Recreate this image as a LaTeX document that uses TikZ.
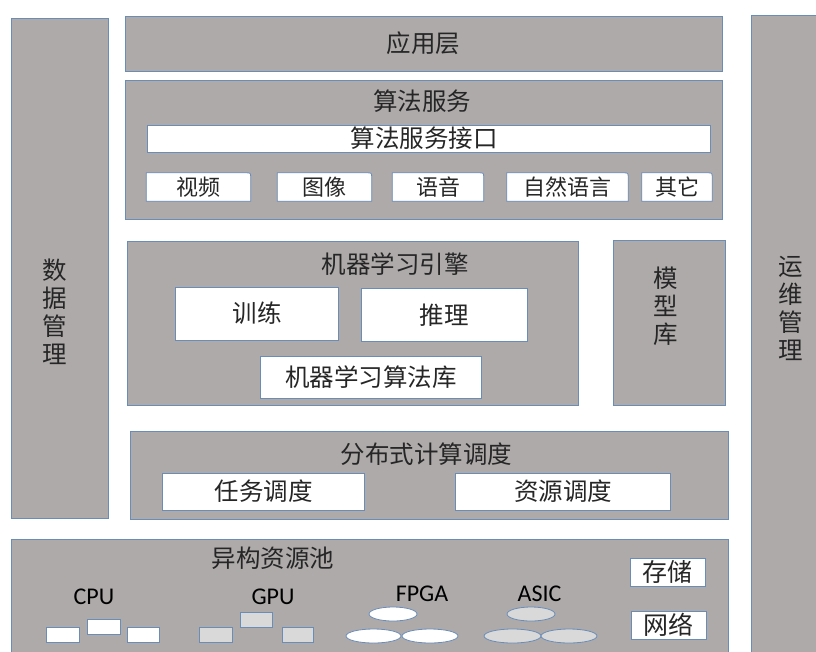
\documentclass[tikz,border=0pt]{standalone}
\usepackage{fontspec}
\setmainfont{Carlito}
\newfontfamily\cjk{Noto Sans CJK SC}
\usetikzlibrary{shapes.geometric}
\definecolor{grayc}{HTML}{AEAAAA}
\definecolor{lgray}{HTML}{D9D9D9}
\definecolor{bordc}{HTML}{6A8DB8}
\definecolor{txtc}{HTML}{262626}
\begin{document}
\begin{tikzpicture}[x=1pt,y=-1pt,
  bord/.style={draw=bordc, line width=0.8pt},
  graybox/.style={bord, fill=grayc, inner sep=0pt},
  whitebox/.style={bord, fill=white, inner sep=0pt, text=txtc, font=\cjk\fontsize{24.5}{28}\selectfont},
  lgbox/.style={bord, fill=lgray, inner sep=0pt},
  lbl/.style={inner sep=0pt, text=txtc, font=\cjk\fontsize{24.5}{28}\selectfont, align=center},
  slbl/.style={inner sep=0pt, text=txtc, font=\cjk\fontsize{22}{26}\selectfont},
  elbl/.style={inner sep=0pt, text=black, font=\fontsize{24}{28}\selectfont},
  btnbox/.style={inner sep=0pt, draw=none, fill=none},
  ell/.style={ellipse, bord, inner sep=0pt, minimum height=14pt}
]
\clip (0,0) rectangle (816,651);
\fill[white] (0,0) rectangle (816,651);

% side columns
\node[graybox, minimum width=97pt, minimum height=500pt] (data) at (59.5,268) {};
\node[lbl] (datat) at (55,311.5) {数\\据\\管\\理};
\node[graybox, minimum width=90pt, minimum height=650pt] (ops) at (796,340) {};
\node[lbl] (opst) at (791,308.5) {运\\维\\管\\理};

% application layer
\node[graybox, minimum width=597pt, minimum height=55pt, lbl] (app) at (423.5,43.5) {应用层};

% algorithm service
\node[graybox, minimum width=597pt, minimum height=139pt] (alg) at (423.5,150) {};
\node[lbl] (algt) at (422,101) {算法服务};
\node[whitebox, minimum width=563pt, minimum height=27pt] (api) at (428.5,138.5) {};
\node[lbl] (apit) at (424,138.5) {算法服务接口};

\node[btnbox, minimum width=104pt, minimum height=28pt] (b1) at (198.5,187) {};
\node[btnbox, minimum width=94pt, minimum height=28pt] (b2) at (324.5,187) {};
\node[btnbox, minimum width=91pt, minimum height=28pt] (b3) at (438,187) {};
\node[btnbox, minimum width=121pt, minimum height=28pt] (b4) at (567.5,187) {};
\node[btnbox, minimum width=70pt, minimum height=28pt] (b5) at (677,187) {};
\foreach \n in {b1,b2,b3,b4,b5}{
  \filldraw[bord, fill=white] (\n.south west) -- (\n.north west) -- ([xshift=-5pt]\n.north east)
    .. controls (\n.north east) .. ([yshift=-5pt]\n.north east) -- (\n.south east) -- cycle;
}
\node[slbl] (t1) at (b1) {视频};
\node[slbl] (t2) at (b2) {图像};
\node[slbl] (t3) at (b3) {语音};
\node[slbl] (t4) at (b4) {自然语言};
\node[slbl] (t5) at (b5) {其它};

% machine learning engine
\node[graybox, minimum width=451pt, minimum height=164pt] (ml) at (353,323.5) {};
\node[lbl] (mlt) at (395,264) {机器学习引擎};
\node[whitebox, minimum width=163pt, minimum height=53pt] (train) at (257,313.5) {训练};
\node[whitebox, minimum width=166pt, minimum height=53pt] (infer) at (444,315) {推理};
\node[whitebox, minimum width=221pt, minimum height=42pt] (lib) at (371,377) {机器学习算法库};

% model library
\node[graybox, minimum width=112pt, minimum height=165pt] (model) at (669,322.5) {};
\node[lbl] (modelt) at (666,306) {模\\型\\库};

% distributed scheduling
\node[graybox, minimum width=598pt, minimum height=88pt] (dist) at (429,475) {};
\node[lbl] (distt) at (426.5,454) {分布式计算调度};
\node[whitebox, minimum width=202pt, minimum height=37pt] (task) at (263.5,491.5) {任务调度};
\node[whitebox, minimum width=215pt, minimum height=37pt] (res) at (563,491.5) {资源调度};

% heterogeneous resource pool
\node[graybox, minimum width=717pt, minimum height=130pt] (pool) at (369.5,604) {};
\node[lbl] (poolt) at (273,558) {异构资源池};
\node[whitebox, minimum width=75pt, minimum height=28pt, font=\cjk\fontsize{25}{28}\selectfont] (stor) at (667.5,572) {存储};
\node[whitebox, minimum width=75pt, minimum height=28pt, font=\cjk\fontsize{25}{28}\selectfont] (net) at (668.5,625) {网络};

\node[elbl] (cpu) at (94,597) {CPU};
\node[elbl] (gpu) at (273,597) {GPU};
\node[elbl] (fpga) at (422,594) {FPGA};
\node[elbl] (asic) at (539.5,594) {ASIC};

\node[whitebox, minimum width=33pt, minimum height=15pt] (c1) at (62.5,634.5) {};
\node[whitebox, minimum width=33pt, minimum height=15pt] (c2) at (103.5,626.5) {};
\node[whitebox, minimum width=32pt, minimum height=15pt] (c3) at (143,634.5) {};

\node[lgbox, minimum width=33pt, minimum height=15pt] (g1) at (215.5,634.5) {};
\node[lgbox, minimum width=32pt, minimum height=15pt] (g2) at (256,619.5) {};
\node[lgbox, minimum width=31pt, minimum height=15pt] (g3) at (297.5,634.5) {};

\node[ell, fill=white, minimum width=48pt] (f1) at (393,614) {};
\node[ell, fill=white, minimum width=55pt] (f2) at (373.5,636) {};
\node[ell, fill=white, minimum width=56pt] (f3) at (430,636) {};

\node[ell, fill=lgray, minimum width=48pt] (a1) at (531,614) {};
\node[ell, fill=lgray, minimum width=57pt] (a2) at (512.5,636) {};
\node[ell, fill=lgray, minimum width=56pt] (a3) at (569,636) {};
\end{tikzpicture}
\end{document}
